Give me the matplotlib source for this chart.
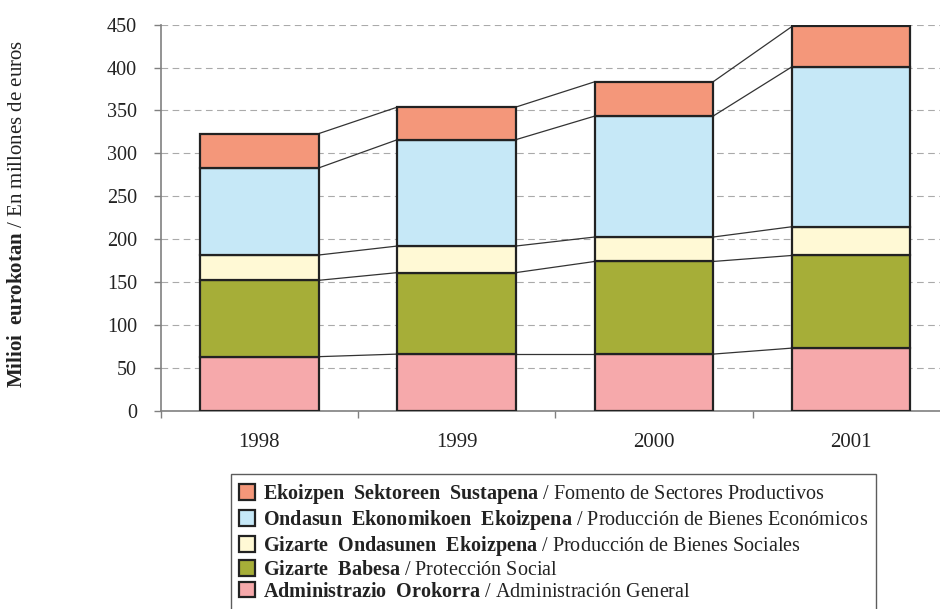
import numpy as np
import matplotlib
matplotlib.use('Agg')
import matplotlib.pyplot as plt

plt.rcParams['font.family'] = ['Liberation Serif', 'DejaVu Serif']
plt.rcParams['mathtext.fontset'] = 'custom'
plt.rcParams['mathtext.rm'] = 'Liberation Serif'
plt.rcParams['mathtext.bf'] = 'Liberation Serif:bold'

# --- data (millones de euros) ---
years = ['1998', '1999', '2000', '2001']
admin_general = [63, 66, 66, 73]
proteccion_social = [89, 95, 108, 108]
bienes_sociales = [29.5, 31, 28.5, 33.5]
bienes_economicos = [101.5, 124, 141, 186.5]
sectores_productivos = [40, 38, 40, 47]

series = [admin_general, proteccion_social, bienes_sociales,
          bienes_economicos, sectores_productivos]
colors = ['#F6A9AB', '#A6AE38', '#FFF9D5', '#C6E8F7', '#F4977A']
labels_eu = ['Administrazio Orokorra', 'Gizarte Babesa',
             'Gizarte Ondasunen Ekoizpena', 'Ondasun Ekonomikoen Ekoizpena',
             'Ekoizpen Sektoreen Sustapena']
labels_es = ['Administración General', 'Protección Social',
             'Producción de Bienes Sociales', 'Producción de Bienes Económicos',
             'Fomento de Sectores Productivos']


def mixed(bold, plain):
    # bold Basque part + regular Spanish part in one string
    return r'$\mathbf{' + bold.replace(' ', r'\ \,') + '}$ / ' + plain


fig = plt.figure(figsize=(9.4, 6.09), dpi=100)
ax = fig.add_axes([0.171, 0.3256, 0.829, 0.6338])

x = np.arange(len(years))
width = 0.6
bottom = np.zeros(len(years))
handles = []
tops = []
for vals, col, eu, es in zip(series, colors, labels_eu, labels_es):
    vals = np.array(vals, dtype=float)
    b = ax.bar(x, vals, width, bottom=bottom, color=col, edgecolor='#222222',
               linewidth=1.6, label=mixed(eu, es), zorder=3)
    handles.append(b)
    bottom = bottom + vals
    tops.append(bottom.copy())

# series lines between neighbouring bars
for level in tops:
    for i in range(len(years) - 1):
        ax.plot([x[i] + width / 2, x[i + 1] - width / 2],
                [level[i], level[i + 1]], color='#333333', lw=0.9, zorder=2)

ax.set_xlim(-0.5, 3.45)
ax.set_ylim(0, 450)
ax.set_yticks(np.arange(0, 451, 50))
ax.set_xticks(x)
ax.set_xticklabels(years)
ax.set_xticks([-0.5, 0.5, 1.5, 2.5], minor=True)

ax.yaxis.grid(True, color='#aaaaaa', lw=0.8, linestyle=(0, (6, 4)))
ax.set_axisbelow(True)

for s in ['top', 'right']:
    ax.spines[s].set_visible(False)
for s in ['left', 'bottom']:
    ax.spines[s].set_color('#808080')
    ax.spines[s].set_linewidth(1.2)

ax.tick_params(axis='y', direction='out', length=5, width=1, color='#808080',
               labelsize=14.5, labelcolor='#222222', pad=12)
ax.tick_params(axis='x', which='major', length=0, labelsize=15,
               labelcolor='#222222', pad=16)
ax.tick_params(axis='x', which='minor', direction='out', length=5, width=1,
               color='#808080')

fig.text(18 / 940, 0.6486, mixed('Milioi eurokotan', 'En millones de euros'),
         rotation=90, ha='center', va='center', fontsize=15, color='#222222')

leg = fig.legend(handles[::-1], [h.get_label() for h in handles[::-1]],
                 loc='upper left', bbox_to_anchor=(231 / 940, 1 - 474 / 609),
                 fontsize=14.5, frameon=True, fancybox=False,
                 edgecolor='#333333', handlelength=0.8, handleheight=0.8,
                 handletextpad=0.4, labelspacing=0.1, borderpad=0.4,
                 borderaxespad=0)
leg.get_frame().set_linewidth(1.0)
for t in leg.get_texts():
    t.set_color('#222222')

fig.savefig('out.png', dpi=100)
